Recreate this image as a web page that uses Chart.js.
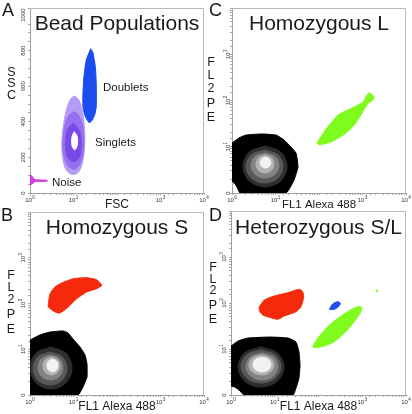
<!DOCTYPE html>
<html><head><meta charset="utf-8">
<script src="https://cdn.jsdelivr.net/npm/chart.js@4.4.1/dist/chart.umd.min.js"></script>
<style>
html,body{margin:0;padding:0;background:#fff;}
#wrap{position:relative;width:412px;height:414px;overflow:hidden;background:#fff;}
canvas{position:absolute;}
</style></head><body><div id="wrap"></div>
<script>
// ================= DATA =================
const logTickValues = [1, 10, 100, 1000, 10000];
const xLogLabels = ['10^0', '10^1', '', '10^3', '10^4'];   // 10^2 is hidden behind the axis title
const yLogLabels = ['0', '10^1', '10^2', '10^3', ''];
const sscTickValues = [0, 200, 400, 600, 800, 1000];
const sscLabels = ['0', '200', '400', '600', '800', '1000'];

// Panel A – FSC (log) vs SSC (linear)
const aNoise = [[1,45],[1,101],[1.08,98],[1.18,85],[1.32,74],[2.45,72],[2.45,66],[1.32,64],[1.18,56],[1.08,48]];
const aDoublets = [[24.9,811],[28.1,787],[31.7,712],[33.4,618],[33.4,486],[30.7,439],[26.6,407],[23.6,396],[21.5,402],[18.1,439],[16.5,486],[16.5,562],[17.4,655],[19.7,749]];
const aSingletsOuter = [[10.7,546],[13.2,524],[15.1,486],[17.2,411],[18.1,317],[17.4,224],[15.1,148],[12.2,111],[8.62,107],[6.48,139],[5.53,214],[5.44,299],[6.05,402],[7.2,486],[8.9,534]];
const aSingletsMid = [[10.3,458],[13.4,434],[16.5,374],[17.4,261],[15.1,176],[10.7,134],[7.2,158],[5.74,242],[6.05,355],[7.47,430]];
const aSingletsInner = [[9.74,393],[13.9,345],[15.1,261],[13.2,195],[9.74,176],[7.2,205],[6.62,280],[7.2,355]];
const aSingletsCore = [[10.4,345],[12.2,317],[12.2,270],[10.7,242],[9.24,265],[9.24,317]];
const aNotes = [['Doublets', 47.7, 592], ['Singlets', 31.2, 282], ['Noise', 3.2, 56]];

// Panel B – Homozygous S
const bBlack = [[1,15.9],[1.7,20.5],[2.88,23.8],[5.74,25.1],[7.47,22.7],[9.75,16.7],[14.1,11.2],[18.4,7.48],[20.4,4.76],[20.4,2.47],[15.7,1.35],[12.7,1],[1,1]];
const bRing1 = [[3.04,11.2],[6.7,8.24],[9.25,3.89],[6.7,1.84],[3.04,1.35],[1.38,1.84],[1,3.89],[1.38,8.24]];
const bRing2 = [[2.88,8.71],[5.47,6.84],[7.1,3.79],[5.47,2.1],[2.88,1.65],[1.52,2.1],[1.17,3.79],[1.52,6.84]];
const bRing3 = [[2.96,7.48],[4.73,6.24],[5.73,3.99],[4.73,2.55],[2.96,2.13],[1.85,2.55],[1.53,3.99],[1.85,6.24]];
const bRing4 = [[3.12,6.78],[4.3,5.94],[4.89,4.31],[4.3,3.12],[3.12,2.74],[2.26,3.12],[1.99,4.31],[2.26,5.94]];
const bRing5 = [[3.29,6.12],[4.05,5.57],[4.4,4.42],[4.05,3.5],[3.29,3.18],[2.67,3.5],[2.46,4.42],[2.67,5.57]];
const bRed = [[2.64,99],[2.88,162],[3.76,230],[5.36,281],[9.89,348],[20.1,366],[34.1,331],[44.5,250],[34.1,211],[20.1,178],[11.8,127],[7.59,83.8],[4.89,62],[3.76,65.2],[2.64,83.8]];

// Panel C – Homozygous L
const cBlack = [[1,12.05],[1.45,15.5],[2.1,17.9],[4.9,18.9],[10.3,17.9],[15.7,14],[22.7,9.9],[29.6,7.3],[32.9,3.65],[26.6,1.91],[17.4,1],[1.53,1],[1.37,1.22],[1.17,1.57],[1,1.82]];
const cRing1 = [[5.74,10.4],[13.1,7.73],[18.4,3.74],[13.1,1.81],[5.74,1.35],[2.51,1.81],[1.79,3.74],[2.51,7.73]];
const cRing2 = [[5.58,8.51],[11.2,6.7],[14.9,3.74],[11.2,2.09],[5.58,1.64],[2.79,2.09],[2.1,3.74],[2.79,6.7]];
const cRing3 = [[5.74,7.33],[9.73,6.12],[12.05,3.94],[9.73,2.53],[5.74,2.11],[3.39,2.53],[2.74,3.94],[3.39,6.12]];
const cRing4 = [[5.74,6.64],[8.05,5.82],[9.25,4.24],[8.05,3.08],[5.74,2.7],[4.09,3.08],[3.56,4.24],[4.09,5.82]];
const cRing5 = [[5.89,6.0],[7.23,5.53],[7.87,4.56],[7.23,3.76],[5.89,3.47],[4.8,3.76],[4.41,4.56],[4.8,5.53]];
const cGreen = [[90,12.1],[140,23],[280,49],[590,70],[1026,92],[1203,122],[1410,148],[1837,121],[1743,103],[1337,86],[960,52],[640,29],[380,18.5],[180,12.5],[100,11]];

// Panel D – Heterozygous S/L
const dBlack = [[1,11.6],[1.45,14.9],[2.45,17.3],[7.79,18.2],[20.1,17.3],[30.6,14.2],[35.8,8.61],[37.8,4.49],[35.8,2.34],[30.6,1.42],[26.1,1],[1.98,1],[1.61,1.22],[1.23,1.49],[1,1.57]];
const dRing1 = [[4.85,11.1],[11.5,8.28],[16.3,4.06],[11.5,2.0],[4.85,1.49],[2.06,2.0],[1.45,4.06],[2.06,8.28]];
const dRing2 = [[4.85,9.53],[10.2,7.5],[13.9,4.17],[10.2,2.32],[4.85,1.82],[2.3,2.32],[1.69,4.17],[2.3,7.5]];
const dRing3 = [[5.12,8.18],[9.31,6.73],[11.9,4.17],[9.31,2.58],[5.12,2.12],[2.81,2.58],[2.2,4.17],[2.81,6.73]];
const dRing4 = [[4.98,7.4],[7.94,6.4],[9.62,4.49],[7.94,3.15],[4.98,2.72],[3.12,3.15],[2.58,4.49],[3.12,6.4]];
const dRing5 = [[5.12,6.7],[7.16,6.01],[8.22,4.6],[7.16,3.52],[5.12,3.16],[3.66,3.52],[3.18,4.6],[3.66,6.01]];
const dRed = [[4.44,83.1],[5.77,116],[9.77,142],[19.8,167],[36.4,199],[43.5,176],[45.9,137],[39.8,83.1],[30.6,64.7],[16.5,52.2],[11.7,44.2],[7.5,48.9],[5.31,54.8],[4.44,68]];
const dBlue = [[177,72.9],[211,95.1],[275,107],[315,98.5],[284,83.1],[230,72.9]];
const dGreen = [[73.7,11.2],[95.9,17.1],[162,30.5],[275,46.5],[506,68],[787,83.1],[971,80.7],[936,64.7],[658,39.2],[389,21.9],[230,14.4],[136,11.6],[87.7,10.7]];
const dGreenDot = [[2173,185]];

// ================= STYLE / LAYOUT =================
const FONT = '"Liberation Sans", Arial, Helvetica, sans-serif';
const GRAYS = ['#000000', '#2e2e2e', '#585858', '#838383', '#b3b3b3', '#f2f2f2'];
const PURPLES = ['#b49cf6', '#9670f0', '#7a4ae6', '#ffffff'];
const RED = '#f52a0c', GREEN = '#7ffc1e', BLUE = '#1f4ef0', DBLUE = '#1a4cf0', MAGENTA = '#cf3fe0';

function poly(pts, color, order, tension) {
  const closed = pts.concat([pts[0]]);
  return {
    data: closed.map(p => ({x: p[0], y: p[1]})),
    showLine: true, fill: 'shape', backgroundColor: color, borderColor: color,
    borderWidth: 1, pointRadius: 0, tension: tension, order: order, clip: 0
  };
}
function blob(black, rings) {
  const out = [poly(black, GRAYS[0], 20, 0.15)];
  rings.forEach((r, i) => out.push(poly(r, GRAYS[i + 1], 19 - i, 0.35)));
  return out;
}

const panels = [
  { letter: 'A', canvas: {x: 0, y: 0, w: 216, h: 216}, area: {l: 30, t: 8, r: 204, b: 193},
    linearY: true, title: 'Bead Populations', titleBase: 30, letterBase: 16, letterX: 2,
    xTitle: 'FSC', xTitleSize: 12, yTitle: ['S', 'S', 'C'], yTitleX: 11.5, yTitleYs: [72.5, 84, 95.5], yLabOff: 7,
    datasets: [
      poly(aSingletsOuter, PURPLES[0], 10, 0.3), poly(aSingletsMid, PURPLES[1], 9, 0.3),
      poly(aSingletsInner, PURPLES[2], 8, 0.3), poly(aSingletsCore, PURPLES[3], 7, 0.3),
      poly(aDoublets, DBLUE, 5, 0.2), poly(aNoise, MAGENTA, 4, 0)
    ], notes: aNotes },
  { letter: 'C', canvas: {x: 206, y: 0, w: 206, h: 216}, area: {l: 26, t: 8, r: 200, b: 193},
    linearY: false, title: 'Homozygous L', titleBase: 30, letterBase: 16, letterX: 3,
    xTitle: 'FL1 Alexa 488', xTitleSize: 11.5, yTitle: ['F', 'L', '2', 'P', 'E'], yTitleX: 5, yTitleYs: [62.5, 76, 88.5, 104, 117.5], yLabOff: 4,
    datasets: blob(cBlack, [cRing1, cRing2, cRing3, cRing4, cRing5]).concat([poly(cGreen, GREEN, 2, 0.2)]) },
  { letter: 'B', canvas: {x: 0, y: 207, w: 216, h: 207}, area: {l: 30, t: 5, r: 204, b: 188},
    linearY: false, title: 'Homozygous S', titleBase: 27, letterBase: 14, letterX: 1,
    xTitle: 'FL1 Alexa 488', xTitleSize: 12, yTitle: ['F', 'L', '2', 'P', 'E'], yTitleX: 11, yTitleYs: [68.5, 81, 92.5, 107.5, 122.5], yLabOff: 7,
    datasets: blob(bBlack, [bRing1, bRing2, bRing3, bRing4, bRing5]).concat([poly(bRed, RED, 2, 0.2)]) },
  { letter: 'D', canvas: {x: 206, y: 207, w: 206, h: 207}, area: {l: 25, t: 4, r: 200, b: 188},
    linearY: false, title: 'Heterozygous S/L', titleBase: 27, letterBase: 14, letterX: 3,
    xTitle: 'FL1 Alexa 488', xTitleSize: 12, yTitle: ['F', 'L', '2', 'P', 'E'], yTitleX: 7, yTitleYs: [61, 72.5, 84, 99, 112.5], yLabOff: 7,
    datasets: blob(dBlack, [dRing1, dRing2, dRing3, dRing4, dRing5]).concat([
      poly(dRed, RED, 2, 0.2), poly(dGreen, GREEN, 2, 0.2), poly(dBlue, BLUE, 1, 0.3),
      { data: dGreenDot.map(p => ({x: p[0], y: p[1]})), showLine: false, pointRadius: 1.3,
        pointBackgroundColor: GREEN, pointBorderWidth: 0, order: 0, clip: 0 }
    ]) }
];

// ================= DRAWING =================
function drawPowLabel(ctx, lab, x, y, rotate, baseOff) {
  const parts = lab.split('^');
  const base = parts[0], exp = parts[1];
  ctx.save();
  ctx.translate(x, y);
  if (rotate) ctx.rotate(-Math.PI / 2);
  ctx.textAlign = 'left'; ctx.textBaseline = 'alphabetic';
  ctx.font = '6px ' + FONT;
  const bw = ctx.measureText(base).width;
  let ew = 0;
  if (exp) { ctx.font = '4.6px ' + FONT; ew = ctx.measureText(exp).width + 0.3; }
  const start = -(bw + ew) / 2;
  ctx.font = '6px ' + FONT;
  ctx.fillText(base, start, baseOff);
  if (exp) { ctx.font = '4.6px ' + FONT; ctx.fillText(exp, start + bw + 0.3, baseOff - 3); }
  ctx.restore();
}

function makeOverlay(P) {
  return {
    id: 'overlay' + P.letter,
    afterDraw(chart) {
      const ctx = chart.ctx, a = chart.chartArea;
      const xs = chart.scales.x, ys = chart.scales.y;
      ctx.save();
      // top and right frame edges
      ctx.strokeStyle = '#b8b8b8'; ctx.lineWidth = 1;
      ctx.beginPath();
      ctx.moveTo(a.left, a.top + 0.5); ctx.lineTo(a.right - 0.5, a.top + 0.5); ctx.lineTo(a.right - 0.5, a.bottom);
      ctx.stroke();
      ctx.fillStyle = '#333';
      // x tick labels
      logTickValues.forEach((v, i) => {
        if (xLogLabels[i]) drawPowLabel(ctx, xLogLabels[i], xs.getPixelForValue(v), a.bottom + 9, false, 0);
      });
      // y tick labels (rotated)
      const yv = P.linearY ? sscTickValues : logTickValues;
      const yl = P.linearY ? sscLabels : yLogLabels;
      yv.forEach((v, i) => {
        if (yl[i]) drawPowLabel(ctx, yl[i], a.left - P.yLabOff, ys.getPixelForValue(v), true, 2.2);
      });
      // annotations
      ctx.fillStyle = '#1a1a1a';
      if (P.notes) {
        ctx.font = '11.5px ' + FONT; ctx.textAlign = 'left'; ctx.textBaseline = 'middle';
        P.notes.forEach(n => ctx.fillText(n[0], xs.getPixelForValue(n[1]), ys.getPixelForValue(n[2])));
      }
      // title
      ctx.font = '21px ' + FONT; ctx.textAlign = 'center'; ctx.textBaseline = 'alphabetic';
      ctx.fillText(P.title, (a.left + a.right) / 2, P.titleBase);
      // x axis title
      ctx.font = P.xTitleSize + 'px ' + FONT;
      ctx.fillText(P.xTitle, (a.left + a.right) / 2, a.bottom + 15);
      // y axis title, stacked letters
      ctx.font = '12.5px ' + FONT; ctx.textBaseline = 'middle';
      P.yTitle.forEach((ch, i) => ctx.fillText(ch, P.yTitleX, P.yTitleYs[i]));
      // panel letter
      ctx.font = '18px ' + FONT; ctx.textAlign = 'left'; ctx.textBaseline = 'alphabetic';
      ctx.fillText(P.letter, P.letterX, P.letterBase);
      ctx.restore();
    }
  };
}

const wrap = document.getElementById('wrap');
panels.forEach(P => {
  const cv = document.createElement('canvas');
  cv.width = P.canvas.w; cv.height = P.canvas.h;
  cv.style.left = P.canvas.x + 'px'; cv.style.top = P.canvas.y + 'px';
  cv.style.width = P.canvas.w + 'px'; cv.style.height = P.canvas.h + 'px';
  wrap.appendChild(cv);
  const axisGrid = {display: true, drawOnChartArea: false, drawTicks: true, tickLength: 2, color: '#a6a6a6', lineWidth: 1};
  const axisBorder = {display: true, color: '#a0a0a0', width: 1};
  const yScale = P.linearY
    ? {type: 'linear', min: 0, max: 1040, ticks: {display: false, stepSize: 50}}
    : {type: 'logarithmic', min: 1, max: 10000, ticks: {display: false}};
  Object.assign(yScale, {position: 'left', grid: axisGrid, border: axisBorder,
    afterFit(s) { s.width = P.area.l; }});
  new Chart(cv, {
    type: 'scatter',
    data: {datasets: P.datasets},
    options: {
      responsive: false, animation: false, devicePixelRatio: 1, events: [],
      layout: {padding: {left: 0, top: P.area.t, right: P.canvas.w - P.area.r, bottom: 0}},
      plugins: {legend: {display: false}, tooltip: {enabled: false}},
      scales: {
        x: {type: 'logarithmic', min: 1, max: 10000, position: 'bottom',
            ticks: {display: false}, grid: axisGrid, border: axisBorder,
            afterFit(s) { s.height = P.canvas.h - P.area.b; }},
        y: yScale
      }
    },
    plugins: [makeOverlay(P)]
  });
});
</script>
</body></html>
